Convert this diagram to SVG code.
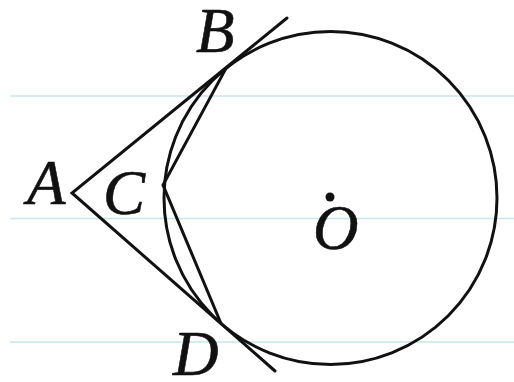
<svg xmlns="http://www.w3.org/2000/svg" width="514" height="382" viewBox="0 0 514 382">
<style>
.guide{stroke:#c8e4ec;stroke-width:1.5;fill:none}
.ln{stroke:#111;stroke-width:3;fill:none;stroke-linecap:round;stroke-linejoin:miter}
.lbl{font-family:"Liberation Serif","Times New Roman",serif;font-style:italic;font-size:63px;fill:#111;stroke:#111;stroke-width:0.6}
</style>
<rect width="514" height="382" fill="#fff"/>
<g id="guides">
<line class="guide" x1="10" y1="96" x2="514" y2="96"/>
<line class="guide" x1="10" y1="218.5" x2="514" y2="218.5"/>
<line class="guide" x1="10" y1="342" x2="514" y2="342"/>
</g>
<g id="circle-O">
<circle class="ln" cx="330.5" cy="198" r="166.5"/>
<circle cx="330" cy="197" r="4.5" fill="#111"/>
<text class="lbl" x="313" y="249">O</text>
</g>
<g id="connectors">
<polyline class="ln" points="287,18 72,193 275,371"/>
<polyline class="ln" points="225.7,68.9 163,185 220.8,323"/>
</g>
<g id="A"><text class="lbl" x="27" y="204">A</text></g>
<g id="B"><text class="lbl" x="196" y="52">B</text></g>
<g id="C"><text class="lbl" x="103" y="214">C</text></g>
<g id="D"><text class="lbl" x="173" y="375">D</text></g>
</svg>
